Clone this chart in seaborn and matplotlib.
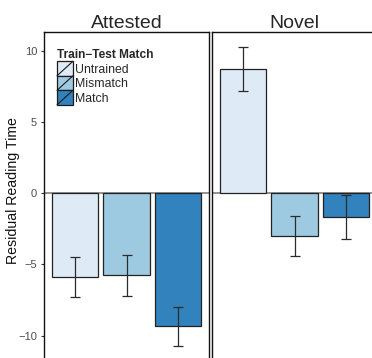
import matplotlib
matplotlib.use("Agg")
import matplotlib.pyplot as plt
import seaborn as sns
import pandas as pd
import numpy as np
from matplotlib.legend_handler import HandlerBase
from matplotlib.patches import Rectangle
from matplotlib.lines import Line2D

# ---- data ----
panels = ["Attested", "Novel"]
matches = ["Untrained", "Mismatch", "Match"]
attested_mean = [-5.87, -5.73, -9.35]
attested_lo = [-7.27, -7.18, -10.70]
attested_hi = [-4.48, -4.31, -8.02]
novel_mean = [8.72, -3.00, -1.66]
novel_lo = [7.20, -4.38, -3.19]
novel_hi = [10.23, -1.63, -0.14]
colors = ["#DEEBF7", "#9ECAE1", "#3182BD"]
yticks = [-10, -5, 0, 5, 10]

df = pd.DataFrame({
    "panel": np.repeat(panels, 3),
    "match": matches * 2,
    "rt": attested_mean + novel_mean,
    "lo": attested_lo + novel_lo,
    "hi": attested_hi + novel_hi,
})

sns.set_theme(style="white")
plt.rcParams["font.family"] = ["Liberation Sans", "DejaVu Sans"]

W, H = 372, 358
fig = plt.figure(figsize=(W / 100, H / 100), dpi=100)


def fx(px):
    return px / W


ylo, yhi = -12.0, 11.31
ax_top_px = 32
ppu = 14.25
ax_bot_px = 193.2 + (-ylo) * ppu
axw = fx(165)
axb = (H - ax_bot_px) / H
axh = (ax_bot_px - ax_top_px) / H

axes = [fig.add_axes([fx(44), axb, axw, axh]),
        fig.add_axes([fx(212), axb, axw, axh])]

for ax, panel in zip(axes, panels):
    sub = df[df["panel"] == panel]
    ax.axhline(0, color="#8A8A8A", lw=1.3, zorder=0.5)
    sns.barplot(data=sub, x="match", y="rt", hue="match", order=matches,
                hue_order=matches, palette=colors, saturation=1, width=0.9,
                edgecolor="#222222", linewidth=0.9, errorbar=None,
                legend=False, ax=ax, zorder=2)
    centers = sorted(p.get_x() + p.get_width() / 2 for p in ax.patches)
    sub = sub.set_index("match").loc[matches]
    ax.errorbar(centers, sub["rt"],
                yerr=[sub["rt"] - sub["lo"], sub["hi"] - sub["rt"]],
                fmt="none", ecolor="#2b2b2b", elinewidth=0.9, capsize=3.6,
                capthick=0.9, zorder=3)
    ax.set_xlim(-0.6, 2.6)
    ax.set_ylim(ylo, yhi)
    ax.set_xlabel("")
    ax.set_ylabel("")
    ax.set_xticks([])
    ax.set_title(panel, fontsize=14, pad=3)
    for s in ax.spines.values():
        s.set_visible(True)
        s.set_color("#111111")
        s.set_linewidth(1.0)

axes[0].set_yticks(yticks)
axes[0].set_yticklabels([f"{t}".replace("-", "\u2212") for t in yticks])
axes[0].tick_params(axis="y", left=True, length=2.4, width=0.8,
                    color="#333333", labelsize=8, labelcolor="#4D4D4D", pad=2.5)
axes[1].set_yticks([])

fig.text(fx(13), (H - 191) / H, "Residual Reading Time", rotation=90,
         ha="center", va="center", fontsize=10.2, color="#111111")


class DiagHandler(HandlerBase):
    def create_artists(self, legend, orig_handle, xdescent, ydescent,
                       width, height, fontsize, trans):
        r = Rectangle((-xdescent, -ydescent), width, height,
                      facecolor=orig_handle.get_facecolor(),
                      edgecolor="#1a1a1a", lw=0.9, transform=trans)
        ln = Line2D([-xdescent, -xdescent + width],
                    [-ydescent, -ydescent + height],
                    color="#1a1a1a", lw=0.8, transform=trans)
        return [r, ln]


handles = [Rectangle((0, 0), 1, 1, facecolor=c) for c in colors]
leg = axes[0].legend(handles, matches, handler_map={Rectangle: DiagHandler()},
                     title="Train\u2212Test Match", loc="upper left",
                     bbox_to_anchor=(0.079, 0.948), frameon=False,
                     fontsize=8.8, title_fontproperties={"weight": "bold", "size": 8.6},
                     handlelength=1.3, handleheight=1.45, labelspacing=0.0,
                     handletextpad=0.2, borderpad=0, borderaxespad=0,
                     alignment="left")

fig.savefig("out.png", dpi=100)
